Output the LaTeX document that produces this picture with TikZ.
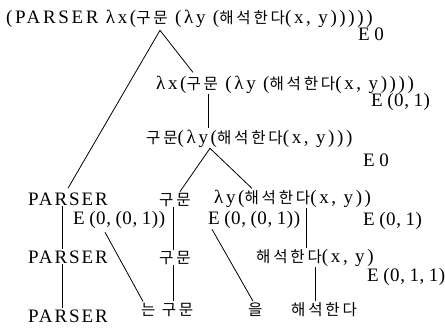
\documentclass[tikz,border=0pt]{standalone}
\usepackage{fontspec}
\setmainfont[LetterSpace=10]{Liberation Serif}
\newfontfamily\rowfont[LetterSpace=14]{Liberation Serif}
\newfontfamily\lblfont[LetterSpace=3,WordSpace=0.85]{Liberation Serif}
\newfontfamily\krfont[Scale=0.82,LetterSpace=18]{Noto Sans CJK KR}
\newcommand{\kr}[1]{{\krfont #1}}
\usetikzlibrary{positioning}

\begin{document}
\begin{tikzpicture}[
        x=1pt, y=-1pt,
        font=\fontsize{19}{22}\selectfont,
        term/.style={anchor=base west, inner sep=1pt},
        row/.style={term, font=\rowfont\fontsize{19}{22}\selectfont},
        cost/.style={term, font=\lblfont\fontsize{19}{22}\selectfont},
        branch/.style={line width=0.8pt, draw=black}
    ]
    \useasboundingbox (0,0) rectangle (445,330);

    % lines of the derivation
    \node[row] (r1) at (5,23) {(PARSER λx(\kr{구문} (λy (\kr{해석한다}(x, y)))))};
    \node[cost] (e1) at (357,40) {E 0};
    \node[row] (r2) at (155,89) {λx(\kr{구문} (λy (\kr{해석한다}(x, y))))};
    \node[cost] (e2) at (370,106) {E (0, 1)};
    \node[row] (r3) at (145,143) {\kr{구문}(λy(\kr{해석한다}(x, y)))};
    \node[cost] (e3) at (362,166) {E 0};

    % split
    \node[term] (p4) at (27,205) {PARSER};
    \node[term] (k4) at (158,205) {\kr{구문}};
    \node[row] (l4) at (213,203) {λy(\kr{해석한다}(x, y))};
    \node[cost] (e4a) at (72,224) {E (0, (0, 1))};
    \node[cost] (e4b) at (207,224) {E (0, (0, 1))};
    \node[cost] (e4c) at (362,225) {E (0, 1)};

    \node[term] (p5) at (27,263) {PARSER};
    \node[term] (k5) at (158,263) {\kr{구문}};
    \node[row] (h5) at (255,262) {\kr{해석한다}(x, y)};
    \node[cost] (e5) at (366,281) {E (0, 1, 1)};

    % words
    \node[term] (p6) at (27,322) {PARSER};
    \node[term] (n6) at (140,315) {\kr{는 구문}};
    \node[term] (u6) at (247,315) {\kr{을}};
    \node[term] (h6) at (290,315) {\kr{해석한다}};

    \draw[branch] ([xshift=155pt,yshift=-2pt]r1.south west) -- ([xshift=41pt,yshift=3pt]p4.north west);
    \draw[branch] ([xshift=155pt,yshift=-2pt]r1.south west) -- ([xshift=38pt,yshift=2pt]r2.north west);
    \draw[branch] ([xshift=53pt]r2.south west) -- ([xshift=63pt]r3.north west);
    \draw[branch] ([xshift=65pt]r3.south west) -- ([xshift=22pt]k4.north west);
    \draw[branch] ([xshift=65pt]r3.south west) -- ([xshift=39pt]l4.north west);
    \draw[branch] ([xshift=35pt]p4.south west) -- ([xshift=35pt]p5.north west);
    \draw[branch] ([xshift=35pt]p5.south west) -- ([xshift=35pt]p6.north west);
    \draw[branch] ([xshift=15pt]k4.south west) -- ([xshift=15pt]k5.north west);
    \draw[branch] ([xshift=15pt]k5.south west) -- ([xshift=33pt]n6.north west);
    \draw[branch] ([xshift=33pt,yshift=-3pt]e4a.south west) -- ([xshift=3pt]n6.north west);
    \draw[branch] ([xshift=5pt]e4b.south west) -- ([xshift=6pt]u6.north west);
    \draw[branch] ([xshift=93pt]l4.south west) -- ([xshift=51pt]h5.north west);
    \draw[branch] ([xshift=60pt]h5.south west) -- ([xshift=25pt]h6.north west);
\end{tikzpicture}
\end{document}
